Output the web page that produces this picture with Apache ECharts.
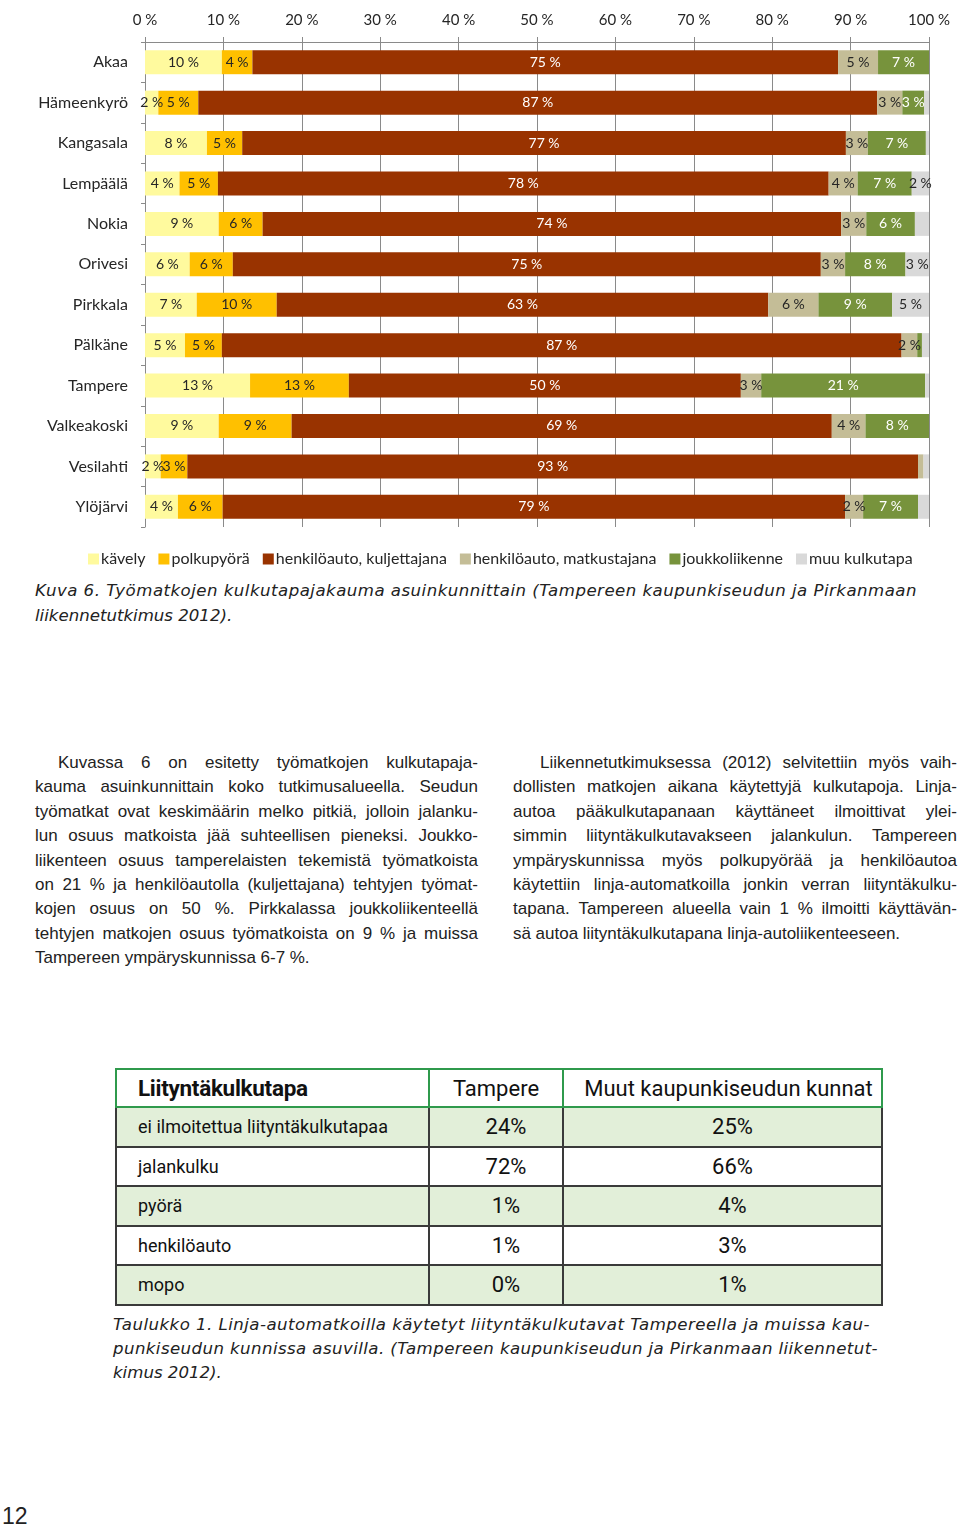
<!DOCTYPE html>
<html>
<head>
<meta charset="utf-8">
<script src="https://cdn.jsdelivr.net/npm/echarts@6/dist/echarts.min.js"></script>
<style>
  html, body { margin: 0; padding: 0; background: #fff; }
  body { width: 960px; height: 1530px; position: relative; overflow: hidden; font-family: "Liberation Sans", Arial, sans-serif; color: #222; }
  #chart { position: absolute; left: 0; top: 0; width: 960px; height: 580px; }
  .cap { position: absolute; font-family: "DejaVu Sans", sans-serif; font-style: italic; font-size: 16.6px; color: #222; white-space: nowrap; }
  .col { position: absolute; font-size: 17px; line-height: 24.4px; color: #222; }
  .ln { display: flex; justify-content: space-between; white-space: nowrap; }
  .ln.last { justify-content: flex-start; }
  .ln.last span { margin-right: 0.27em; }
  table { position: absolute; left: 115px; top: 1068px; border-collapse: collapse; table-layout: fixed; width: 766px; font-family: "Roboto", sans-serif; }
  td { border: 2px solid #3a3a3a; padding: 0; height: 37.5px; color: #111; white-space: nowrap; }
  tr.h td { border: 2px solid #2f9a4c; height: 36px; font-size: 22px; background: #fff; }
  tr.g td { background: #E2EFD9; }
  td.c1 { padding-left: 21px; font-size: 18px; }
  td.n { text-align: center; font-size: 22px; padding-left: 20px; }
  tr.h td.c1 { font-weight: bold; font-size: 22.5px; letter-spacing: -0.3px; }
  #pg { position: absolute; left: 2px; top: 1503px; font-size: 23px; color: #222; }
</style>
</head>
<body>
<div id="chart"></div>

<div class="cap" style="left:35px; top:581px;" data-w="882">Kuva 6. Työmatkojen kulkutapajakauma asuinkunnittain (Tampereen kaupunkiseudun ja Pirkanmaan</div>
<div class="cap" style="left:35px; top:606px;">liikennetutkimus 2012).</div>

<div class="col" id="left" style="left:35px; top:751px; width:443px;"></div>
<div class="col" id="right" style="left:513px; top:751px; width:444px;"></div>

<table id="tbl"><colgroup><col style="width:313px"><col style="width:134px"><col style="width:319px"></colgroup><tbody id="tb"></tbody></table>

<div class="cap" style="left:113px; top:1315px;" data-w="757">Taulukko 1. Linja-automatkoilla käytetyt liityntäkulkutavat Tampereella ja muissa kau-</div>
<div class="cap" style="left:113px; top:1339px;" data-w="765">punkiseudun kunnissa asuvilla. (Tampereen kaupunkiseudun ja Pirkanmaan liikennetut-</div>
<div class="cap" style="left:113px; top:1363px;">kimus 2012).</div>

<div id="pg">12</div>

<script>
// ---- Chart data ----
const categories = ['Akaa','Hämeenkyrö','Kangasala','Lempäälä','Nokia','Orivesi','Pirkkala','Pälkäne','Tampere','Valkeakoski','Vesilahti','Ylöjärvi'];
const seriesNames = ['kävely','polkupyörä','henkilöauto, kuljettajana','henkilöauto, matkustajana','joukkoliikenne','muu kulkutapa'];
const kavely     = [9.8, 1.7, 7.9, 4.4, 9.4, 5.7, 6.6, 5.1, 13.4, 9.4, 2.0, 4.2];
const polkupyora = [3.9, 5.1, 4.5, 4.9, 5.6, 5.5, 10.2, 4.7, 12.6, 9.3, 3.4, 5.7];
const kuljettaja = [74.7, 86.6, 77.0, 77.9, 73.8, 75.0, 62.7, 86.7, 50.0, 68.9, 93.2, 79.4];
const matkustaja = [5.1, 3.2, 2.8, 3.7, 3.2, 3.1, 6.4, 2.0, 2.6, 4.3, 0.7, 2.3];
const joukko     = [6.5, 2.8, 7.4, 6.9, 6.2, 7.7, 9.4, 0.6, 20.9, 8.1, 0, 7.0];
const muu        = [0, 0.6, 0.4, 2.2, 1.8, 3.0, 4.7, 0.9, 0.5, 0, 0.7, 1.4];
// labels not printed in the original figure (series index, category)
const hiddenLabels = [[5, 'Nokia']];

// ---- Table data ----
const tableHeader = ['Liityntäkulkutapa', 'Tampere', 'Muut kaupunkiseudun kunnat'];
const tableRows   = ['ei ilmoitettua liityntäkulkutapaa', 'jalankulku', 'pyörä', 'henkilöauto', 'mopo'];
const tableTampere = ['24%', '72%', '1%', '1%', '0%'];
const tableMuut    = ['25%', '66%', '4%', '3%', '1%'];

// ---- Body text ----
const leftLines = [
  'Kuvassa 6 on esitetty työmatkojen kulkutapaja-',
  'kauma asuinkunnittain koko tutkimusalueella. Seudun',
  'työmatkat ovat keskimäärin melko pitkiä, jolloin jalanku-',
  'lun osuus matkoista jää suhteellisen pieneksi. Joukko-',
  'liikenteen osuus tamperelaisten tekemistä työmatkoista',
  'on 21 % ja henkilöautolla (kuljettajana) tehtyjen työmat-',
  'kojen osuus on 50 %. Pirkkalassa joukkoliikenteellä',
  'tehtyjen matkojen osuus työmatkoista on 9 % ja muissa',
  'Tampereen ympäryskunnissa 6-7 %.'
];
const rightLines = [
  'Liikennetutkimuksessa (2012) selvitettiin myös vaih-',
  'dollisten matkojen aikana käytettyjä kulkutapoja. Linja-',
  'autoa pääkulkutapanaan käyttäneet ilmoittivat ylei-',
  'simmin liityntäkulkutavakseen jalankulun. Tampereen',
  'ympäryskunnissa myös polkupyörää ja henkilöautoa',
  'käytettiin linja-automatkoilla jonkin verran liityntäkulku-',
  'tapana. Tampereen alueella vain 1 % ilmoitti käyttävän-',
  'sä autoa liityntäkulkutapana linja-autoliikenteeseen.'
];

const colors = ['#FFFA9E', '#FFC000', '#993300', '#C4BD97', '#77933C', '#D9D9D9'];
const labelColors = ['#262626', '#262626', '#ffffff', '#262626', '#ffffff', '#262626'];
const values = [kavely, polkupyora, kuljettaja, matkustaja, joukko, muu];

const chart = echarts.init(document.getElementById('chart'));
chart.setOption({
  animation: false,
  textStyle: { fontFamily: 'Lato' },
  grid: { left: 145, right: 31, top: 42, height: 485 },
  legend: {
    data: seriesNames, left: 88, top: 551, itemWidth: 11, itemHeight: 11, itemGap: 13, icon: 'rect', padding: 0,
    textStyle: { fontFamily: 'Lato', fontSize: 16, color: '#262626', padding: [0, 0, 0, -3] }
  },
  xAxis: {
    type: 'value', position: 'top', min: 0, max: 100, interval: 10,
    axisLine: { show: true, lineStyle: { color: '#8a8a8a', width: 1 } },
    axisTick: { show: true, length: 5, lineStyle: { color: '#8a8a8a' } },
    splitLine: { show: true, lineStyle: { color: '#8a8a8a', width: 1 } },
    axisLabel: { formatter: v => v + ' %', fontSize: 15, color: '#262626', margin: 14, fontFamily: 'Lato' }
  },
  yAxis: {
    type: 'category', inverse: true, data: categories,
    axisLine: { show: true, lineStyle: { color: '#8a8a8a' } },
    axisTick: { show: true, length: 4, lineStyle: { color: '#8a8a8a' } },
    axisLabel: { fontSize: 16, color: '#262626', margin: 17, fontFamily: 'Lato' }
  },
  series: seriesNames.map((name, si) => ({
    name, type: 'bar', stack: 'total', barWidth: 24,
    itemStyle: { color: colors[si] },
    label: {
      show: true, position: 'inside', color: labelColors[si], fontSize: 14, fontFamily: 'Lato',
      formatter: p => {
        if (p.value < 1.5) return '';
        if (hiddenLabels.some(h => h[0] === si && h[1] === p.name)) return '';
        return Math.round(p.value) + ' %';
      }
    },
    data: values[si]
  }))
});

// body text columns
function fill(el, lines, indent) {
  lines.forEach((l, i) => {
    const d = document.createElement('div');
    d.className = 'ln' + (i === lines.length - 1 ? ' last' : '');
    if (i === 0) d.style.paddingLeft = indent + 'px';
    l.split(' ').forEach(w => { const s = document.createElement('span'); s.textContent = w; d.appendChild(s); });
    el.appendChild(d);
  });
}
fill(document.getElementById('left'), leftLines, 23);
fill(document.getElementById('right'), rightLines, 27);

// table
const tb = document.getElementById('tb');
let html = '<tr class="h">' + tableHeader.map((h, i) => `<td class="${i ? 'n' : 'c1'}" style="${i === 1 ? 'padding-left:0' : ''}${i === 2 ? 'padding-left:12px' : ''}">${h}</td>`).join('') + '</tr>';
tableRows.forEach((r, i) => {
  html += `<tr class="${i % 2 === 0 ? 'g' : ''}"><td class="c1">${r}</td><td class="n">${tableTampere[i]}</td><td class="n">${tableMuut[i]}</td></tr>`;
});
tb.innerHTML = html;

// fit caption widths
document.querySelectorAll('.cap[data-w]').forEach(el => {
  const target = +el.dataset.w;
  const n = el.textContent.length;
  const w = el.getBoundingClientRect().width;
  el.style.letterSpacing = ((target - w) / n) + 'px';
});
</script>
</body>
</html>
